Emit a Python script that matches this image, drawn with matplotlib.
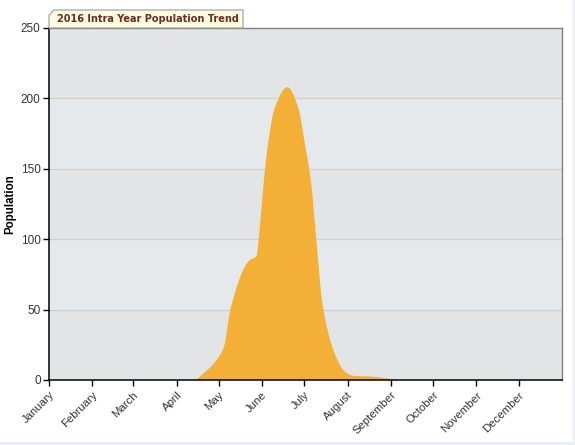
import datetime as dt

import matplotlib
matplotlib.use("Agg")
import matplotlib.pyplot as plt
import matplotlib.dates as mdates
from matplotlib.path import Path
from matplotlib.patches import PathPatch, Polygon, Rectangle

# survey dates and population counts
dates = [
    "2016-04-15", "2016-04-29", "2016-05-05", "2016-05-09", "2016-05-13",
    "2016-05-18", "2016-05-23", "2016-05-28", "2016-05-30", "2016-06-02",
    "2016-06-05", "2016-06-10", "2016-06-19", "2016-06-27", "2016-07-01",
    "2016-07-06", "2016-07-10", "2016-07-14", "2016-07-22", "2016-07-30",
    "2016-08-05", "2016-08-17", "2016-09-06",
]
population = [0, 13.5, 24, 48, 63,
              77, 85, 88, 104, 138,
              166, 193, 208, 193, 171,
              140, 96, 55, 21, 6,
              3, 2.5, 0]

months = ["January", "February", "March", "April", "May", "June", "July",
          "August", "September", "October", "November", "December"]
y_ticks = [0, 50, 100, 150, 200, 250]

FILL = "#F4B036"
BAND_DARK = "#E3E4E6"
BAND_LIGHT = "#E6E9EC"
TICK_FONT = "Liberation Sans"


def monotone_path(xs, ys):
    """Closed area outline using monotone cubic (Fritsch-Carlson) segments."""
    n = len(xs)
    h = [xs[i + 1] - xs[i] for i in range(n - 1)]
    s = [(ys[i + 1] - ys[i]) / h[i] for i in range(n - 1)]
    m = [0.0] * n
    m[0], m[-1] = s[0], s[-1]
    for i in range(1, n - 1):
        if s[i - 1] * s[i] <= 0:
            m[i] = 0.0
        else:
            w1 = 2 * h[i] + h[i - 1]
            w2 = h[i] + 2 * h[i - 1]
            m[i] = (w1 + w2) / (w1 / s[i - 1] + w2 / s[i])

    verts = [(xs[0], 0), (xs[0], ys[0])]
    codes = [Path.MOVETO, Path.LINETO]
    for i in range(n - 1):
        d = h[i] / 3
        verts += [(xs[i] + d, ys[i] + m[i] * d),
                  (xs[i + 1] - d, ys[i + 1] - m[i + 1] * d),
                  (xs[i + 1], ys[i + 1])]
        codes += [Path.CURVE4] * 3
    verts += [(xs[-1], 0), (xs[0], 0)]
    codes += [Path.LINETO, Path.CLOSEPOLY]
    return Path(verts, codes)


W, H = 575, 445
fig = plt.figure(figsize=(W / 100, H / 100), dpi=100)
fig.patch.set_facecolor("white")

# light frame strips on right and bottom
fig.add_artist(Rectangle((572.5 / W, 0), 1, 1, transform=fig.transFigure,
                         color="#E8F0F6", zorder=0))
fig.add_artist(Rectangle((0, 0), 1, 3.5 / H, transform=fig.transFigure,
                         color="#E8F0F6", zorder=0))

left_px, right_px, top_px, bottom_px = 49, 562, 28, 380
ax = fig.add_axes([left_px / W, 1 - bottom_px / H,
                   (right_px - left_px) / W, (bottom_px - top_px) / H])
ax.set_facecolor(BAND_LIGHT)
for lo in range(0, 250, 100):
    ax.axhspan(lo, lo + 50, color=BAND_DARK, lw=0, zorder=0)
for yv in y_ticks[1:-1]:
    ax.axhline(yv, color="#D0D0D0", lw=0.9, zorder=1)

xs = [mdates.date2num(dt.date.fromisoformat(d)) for d in dates]
ax.add_patch(PathPatch(monotone_path(xs, population), facecolor=FILL,
                       edgecolor="none", zorder=2))

x0 = mdates.date2num(dt.date(2016, 1, 1))
x1 = mdates.date2num(dt.date(2017, 1, 1))
ax.set_xlim(x0, x1)
ax.set_ylim(0, 250)

month_ticks = [mdates.date2num(dt.date(2016, m, 1)) for m in range(1, 13)]
ax.set_xticks(month_ticks)
ax.set_xticklabels(months, rotation=45, ha="right", va="top",
                   rotation_mode="anchor", fontsize=8.2, color="#333333",
                   family=TICK_FONT)
ax.set_yticks(y_ticks)
ax.set_yticklabels([str(v) for v in y_ticks], fontsize=8.5, color="#333333",
                   family=TICK_FONT)
ax.tick_params(axis="both", length=4, width=1, color="black", pad=2)
ax.tick_params(axis="x", pad=3)

for side in ("left", "bottom"):
    ax.spines[side].set_color("black")
    ax.spines[side].set_linewidth(1.1)
for side in ("top", "right"):
    ax.spines[side].set_color("#808080")
    ax.spines[side].set_linewidth(1.0)

fig.text(10 / W, 1 - 204 / H, "Population", rotation=90, ha="center",
         va="center", fontsize=8.3, fontweight="bold", color="black",
         family=TICK_FONT)

# title tab with a folded corner
tab = [(49, 28), (49, 15), (54, 10), (243, 10), (243, 28)]
fig.add_artist(Polygon([(x / W, 1 - y / H) for x, y in tab], closed=True,
                       transform=fig.transFigure, facecolor="#FFFBE0",
                       edgecolor="#9A9A9A", lw=0.8, zorder=3))
fig.text(57 / W, 1 - 19.5 / H, "2016 Intra Year Population Trend",
         ha="left", va="center", fontsize=7.0, fontweight="bold",
         color="#6B2B1E", zorder=4)

fig.savefig("out.png", dpi=100)
